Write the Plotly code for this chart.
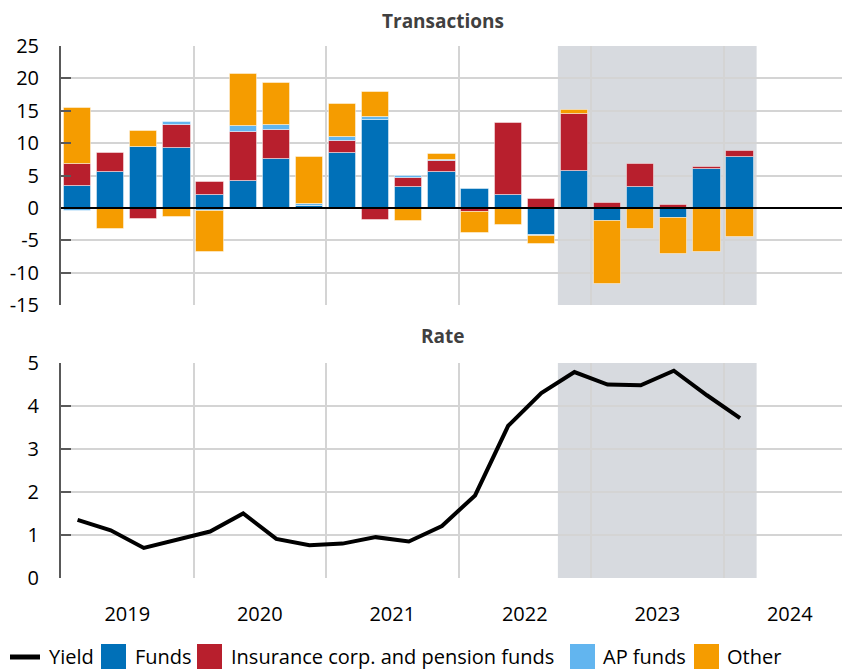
import plotly.graph_objects as go

quarters = ["2019Q1","2019Q2","2019Q3","2019Q4","2020Q1","2020Q2","2020Q3","2020Q4",
            "2021Q1","2021Q2","2021Q3","2021Q4","2022Q1","2022Q2","2022Q3","2022Q4",
            "2023Q1","2023Q2","2023Q3","2023Q4","2024Q1"]
funds = [3.4, 5.5, 9.35, 9.2, 1.95, 4.15, 7.5, 0.35, 8.5, 13.6, 3.25, 5.5, 2.9, 1.95,
         -4.2, 5.65, -2.0, 3.2, -1.55, 6.0, 7.8]
insurance = [3.3, 3.05, -1.75, 3.65, 2.05, 7.55, 4.6, None, 1.85, -1.8, 1.4, 1.7, -0.7,
             11.1, 1.3, 8.85, 0.8, 3.55, 0.45, 0.3, 1.0]
ap_funds = [-0.55, None, None, 0.35, -0.45, 0.9, 0.65, 0.3, 0.55, 0.4, 0.3, 0.15, None,
            None, -0.2, None, None, None, None, None, None]
other = [8.8, -3.2, 2.6, -1.4, -6.3, 8.1, 6.5, 7.15, 5.2, 3.85, -2.0, 0.9, -3.15, -2.7,
         -1.2, 0.6, -9.8, -3.3, -5.6, -6.85, -4.5]
yield_rate = [1.35, 1.11, 0.7, 0.88, 1.08, 1.5, 0.91, 0.76, 0.8, 0.95, 0.85, 1.21, 1.92,
              3.54, 4.3, 4.79, 4.5, 4.48, 4.82, 4.25, 3.72]
year_labels = ["2019", "2020", "2021", "2022", "2023", "2024"]
top_ticks = [-15, -10, -5, 0, 5, 10, 15, 20, 25]
bot_ticks = [0, 1, 2, 3, 4, 5]
shade_start, shade_end = 2022.75, 2024.25

series_names = ["Funds", "Insurance corp. and pension funds", "AP funds", "Other"]
series_colors = ["#0070b8", "#b81f2d", "#62b5ef", "#f59c00"]

# quarter centre positions on a numeric year axis
xq = [int(q[:4]) + (int(q[5]) - 0.5) / 4 for q in quarters]

# the page body adds an 8px offset; size the figure so it fills the window
OFF = 8
W, H = 850 - OFF, 669 - OFF
L, R, T = 61 - OFF, 0, 46 - OFF
B = H - (578 - OFF)
plot_w = W - L - R
plot_h = H - T - B
def px2x(px):  # screenshot pixel -> paper x
    return (px - OFF - L) / plot_w
def px2y(py):  # screenshot pixel -> paper y
    return (H - B - (py - OFF)) / plot_h

top_dom = [px2y(305), 1.0]
bot_dom = [0.0, px2y(363)]

FONT = "Open Sans, Noto Sans, sans-serif"
GRID = "#d4d4d4"
AXC = "#595959"

fig = go.Figure()
for name, vals, col in zip(series_names, [funds, insurance, ap_funds, other], series_colors):
    fig.add_trace(go.Bar(x=xq, y=vals, name=name, marker=dict(color=col,
                         line=dict(color="rgba(255,255,255,0.45)", width=1)),
                         width=0.205, showlegend=False, xaxis="x", yaxis="y"))

fig.add_trace(go.Scatter(x=xq, y=yield_rate, mode="lines", name="Yield",
                         line=dict(color="black", width=4), showlegend=False,
                         xaxis="x2", yaxis="y2"))

xrange = [2019, 2019 + plot_w / 132.5]
years_int = [2020, 2021, 2022, 2023, 2024]
mid_years = [int(y) + 0.5 for y in year_labels]

fig.update_layout(
    width=W, height=H, margin=dict(l=L, r=R, t=T, b=B, autoexpand=False),
    paper_bgcolor="white", plot_bgcolor="white",
    barmode="relative", bargap=0,
    font=dict(family=FONT, size=20, color="black"),
    xaxis=dict(domain=[0, 1], range=xrange, anchor="y", tickmode="array",
               tickvals=years_int, showticklabels=False, showgrid=True,
               gridcolor=GRID, gridwidth=2, zeroline=False, showline=False, ticks=""),
    yaxis=dict(domain=top_dom, range=[-15, 25], tickmode="array",
               tickvals=top_ticks, ticktext=[str(v) for v in top_ticks],
               showgrid=True, gridcolor=GRID,
               gridwidth=2, zeroline=False, showline=True, linecolor=AXC, linewidth=2,
               ticks="inside", ticklen=10, tickwidth=2, tickcolor=AXC,
               ticklabelstandoff=16, anchor="x"),
    yaxis3=dict(overlaying="y", side="right", anchor="x", range=[-15, 25],
                tickmode="array", tickvals=top_ticks, showticklabels=False,
                showgrid=False, zeroline=False, showline=False, ticks="inside",
                ticklen=4, tickwidth=2, tickcolor=AXC),
    xaxis2=dict(domain=[0, 1], range=xrange, anchor="y2", tickmode="array",
                tickvals=mid_years, ticktext=year_labels, showgrid=False,
                zeroline=False, showline=False, ticks="", ticklabelstandoff=22,
                minor=dict(tickmode="array", tickvals=years_int, showgrid=True,
                           gridcolor=GRID, gridwidth=2, ticks="")),
    yaxis2=dict(domain=bot_dom, range=[0, 5], tickmode="array", tickvals=bot_ticks,
                showgrid=True, gridcolor=GRID, gridwidth=2, zeroline=False,
                showline=True, linecolor=AXC, linewidth=2, ticks="inside", ticklen=10,
                tickwidth=2, tickcolor=AXC, ticklabelstandoff=16, anchor="x2"),
    yaxis4=dict(overlaying="y2", side="right", anchor="x2", range=[0, 5],
                tickmode="array", tickvals=bot_ticks, showticklabels=False,
                showgrid=False, zeroline=False, showline=False, ticks="inside",
                ticklen=4, tickwidth=2, tickcolor=AXC),
)

shapes = []
for xr, yr in [("x", "y domain"), ("x2", "y2 domain")]:
    shapes.append(dict(type="rect", xref=xr, yref=yr, x0=shade_start, x1=shade_end,
                       y0=0, y1=1, fillcolor="#d7dadf", line=dict(width=0), layer="below"))
shapes.append(dict(type="line", xref="x domain", yref="y", x0=0, x1=1, y0=0, y1=0,
                   line=dict(color="black", width=2), layer="above"))

# legend (drawn manually to match swatch sizes)
ly = 656
shapes.append(dict(type="line", xref="paper", yref="paper", x0=px2x(10), x1=px2x(40),
                   y0=px2y(657), y1=px2y(657), line=dict(color="black", width=5)))
sw_pos = [(101, 133), (197, 229), (570, 601), (694, 725)]
annotations = [dict(text="Yield", xref="paper", yref="paper", x=px2x(47), y=px2y(ly),
                    xanchor="left", yanchor="middle", showarrow=False,
                    font=dict(size=20, color="black", family=FONT))]
for name, col, (sx, tx) in zip(series_names, series_colors, sw_pos):
    shapes.append(dict(type="rect", xref="paper", yref="paper", x0=px2x(sx), x1=px2x(sx + 25),
                       y0=px2y(644), y1=px2y(669), fillcolor=col, line=dict(width=0)))
    annotations.append(dict(text=name, xref="paper", yref="paper", x=px2x(tx), y=px2y(ly),
                            xanchor="left", yanchor="middle", showarrow=False,
                            font=dict(size=20, color="black", family=FONT)))

for title, ty in [("Transactions", 20.5), ("Rate", 336)]:
    annotations.append(dict(text="<b>" + title + "</b>", xref="paper", yref="paper",
                            x=px2x(443), y=px2y(ty), xanchor="center", yanchor="middle",
                            borderpad=0, showarrow=False,
                            font=dict(size=19, color="#404040", family=FONT)))

fig.update_layout(shapes=shapes, annotations=annotations)
fig.write_html("out.html")
